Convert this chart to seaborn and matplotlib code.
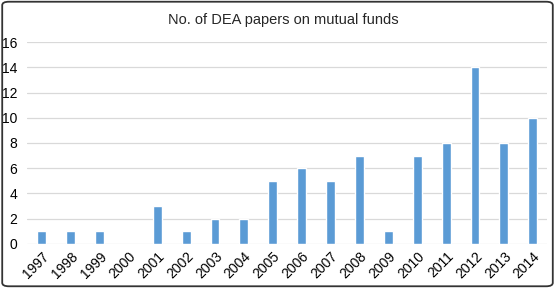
import matplotlib
matplotlib.use("Agg")
import matplotlib.pyplot as plt
import seaborn as sns
import pandas as pd
from matplotlib.patches import FancyBboxPatch

years = ["1997", "1998", "1999", "2000", "2001", "2002", "2003", "2004", "2005",
         "2006", "2007", "2008", "2009", "2010", "2011", "2012", "2013", "2014"]
papers = [1, 1, 1, 0, 3, 1, 2, 2, 5, 6, 5, 7, 1, 7, 8, 14, 8, 10]

df = pd.DataFrame({"year": years, "papers": papers})

sns.set_style("white")
plt.rcParams["font.family"] = ["Liberation Sans", "DejaVu Sans"]

fig = plt.figure(figsize=(5.55, 2.88), dpi=100)
ax = fig.add_axes([0.049, 0.153, 0.937, 0.701])

sns.barplot(data=df, x="year", y="papers", color="#5B9BD5", width=0.31,
            saturation=1, ax=ax, zorder=3)

ax.set_ylim(0, 16)
ax.set_yticks(range(0, 17, 2))
ax.set_xlim(-0.5, len(years) - 0.5)
ax.grid(axis="y", color="#D9D9D9", linewidth=0.9, zorder=0)
ax.set_axisbelow(True)
for s in ax.spines.values():
    s.set_visible(False)
ax.set_xlabel("")
ax.set_ylabel("")
ax.tick_params(axis="both", length=0, labelsize=10, colors="black")
ax.tick_params(axis="y", pad=7)
plt.setp(ax.get_xticklabels(), rotation=45, ha="right", rotation_mode="anchor")
ax.tick_params(axis="x", pad=4)

fig.text(0.51, 0.93, "No. of DEA papers on mutual funds", ha="center",
         va="center", fontsize=10.5)

border = FancyBboxPatch((0.004, 0.006), 0.992, 0.988, transform=fig.transFigure,
                        boxstyle="round,pad=0,rounding_size=0.012",
                        fill=False, edgecolor="#333333", linewidth=1.3)
fig.patches.append(border)

fig.savefig("out.png", dpi=100)
